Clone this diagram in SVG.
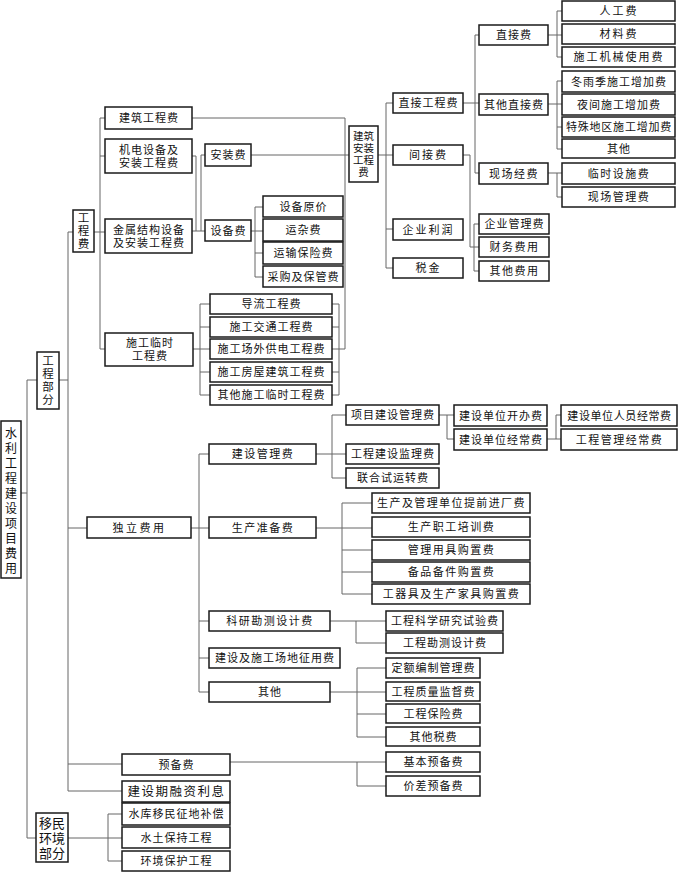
<svg xmlns="http://www.w3.org/2000/svg" width="680" height="872" viewBox="0 0 680 872">
<style>
rect{fill:#fff;stroke:#1a1a1a;stroke-width:1.5}
text{font-family:"Liberation Serif","Noto Sans CJK SC",serif;font-size:11px;fill:#111;text-anchor:middle;dominant-baseline:central;letter-spacing:1px}
.v{letter-spacing:0}
.big{font-size:12px}
#connectors path{fill:none;stroke:#666;stroke-width:1}
</style>
<rect x="0" y="0" width="680" height="872" style="stroke:none"/>
<g id="connectors">
<path d="M21,493H27M27,380V838M27,380H37M27,838H36"/>
<path d="M59,380H68M68,232V791M68,232H73M68,528H87M68,764H122M68,791H122"/>
<path d="M94,232H105M100,118V349M100,118H105M100,156H105M100,349H105"/>
<path d="M192,118H345V349M332,349H345"/>
<path d="M192,156H196V231M192,231H205M201,155V231M201,155H205"/>
<path d="M251,155H349"/>
<path d="M251,231H263M255,207V277M255,207H263M255,253H263M255,277H263"/>
<path d="M193,349H210M200,304V395M200,304H210M200,327H210M200,372H210M200,395H210"/>
<path d="M339,304V395M332,304H339M332,327H339M332,372H339M332,395H339"/>
<path d="M378,155H393M386,103V268M386,103H393M386,229H393M386,268H393"/>
<path d="M463,103H479M475,35V173M475,35H479M475,173H479"/>
<path d="M548,35H562M557,11V57M557,11H562M557,57H562"/>
<path d="M548,104H562M557,81V149M557,81H562M557,127H562M557,149H562"/>
<path d="M548,173H562M557,173V197H562"/>
<path d="M463,155H470V247H479M474,224V271M474,224H479M474,271H479"/>
<path d="M191,528H209M199,454V692M199,454H209M199,621H209M199,658H209M199,692H209"/>
<path d="M316,454H346M332,415V478M332,415H346M332,478H346"/>
<path d="M439,415H454M447,415V439H454"/>
<path d="M547,439H561M556,415V439M556,415H561"/>
<path d="M316,528H372M342,503V594M342,503H372M342,550H372M342,572H372M342,594H372"/>
<path d="M330,621H386M356,621V643H386"/>
<path d="M330,692H386M357,668V737M357,668H386M357,714H386M357,737H386"/>
<path d="M230,762H386M357,762V786H386"/>
<path d="M68,838H122M108,814V861M108,814H122M108,861H122"/>
</g>
<g id="root"><rect x="1" y="421" width="20" height="157"/><text class="v big" x="11"><tspan x="11" y="434">水</tspan><tspan x="11" y="449">利</tspan><tspan x="11" y="464">工</tspan><tspan x="11" y="479">程</tspan><tspan x="11" y="494">建</tspan><tspan x="11" y="509">设</tspan><tspan x="11" y="524">项</tspan><tspan x="11" y="539">目</tspan><tspan x="11" y="554">费</tspan><tspan x="11" y="569">用</tspan></text></g>
<g id="gongchengbufen"><rect x="37" y="352" width="22" height="57"/><text class="v" style="font-size:11.5px"><tspan x="48" y="361">工</tspan><tspan x="48" y="374">程</tspan><tspan x="48" y="387">部</tspan><tspan x="48" y="400">分</tspan></text></g>
<g id="yimin"><rect x="36" y="813" width="32" height="49"/><text class="v" style="font-size:13px"><tspan x="52" y="823">移民</tspan><tspan x="52" y="838">环境</tspan><tspan x="52" y="853">部分</tspan></text></g>
<g id="gongchengfei"><rect x="73" y="210" width="21" height="42"/><text class="v" style="font-size:11.5px"><tspan x="83.5" y="218">工</tspan><tspan x="83.5" y="231">程</tspan><tspan x="83.5" y="244">费</tspan></text></g>
<g id="jianzhugcf"><rect x="105" y="107" width="87" height="22"/><text x="149" y="118">建筑工程费</text></g>
<g id="jidian"><rect x="105" y="139" width="87" height="34"/><text><tspan x="149" y="149.5">机电设备及</tspan><tspan x="149" y="162.5">安装工程费</tspan></text></g>
<g id="jinshu"><rect x="105" y="219" width="87" height="34"/><text><tspan x="149" y="229.5">金属结构设备</tspan><tspan x="149" y="242.5">及安装工程费</tspan></text></g>
<g id="shigonglinshi"><rect x="105" y="333" width="88" height="33"/><text><tspan x="150" y="343">施工临时</tspan><tspan x="150" y="356">工程费</tspan></text></g>
<g id="anzhuangfei"><rect x="205" y="144" width="46" height="22"/><text x="228.5" y="155">安装费</text></g>
<g id="shebeifei"><rect x="205" y="220" width="46" height="21"/><text x="228.5" y="231">设备费</text></g>
<g id="sbyj"><rect x="263" y="196" width="80" height="21"/><text x="303.5" y="206.5">设备原价</text></g>
<g id="yzf"><rect x="263" y="219" width="80" height="22"/><text x="303.5" y="230">运杂费</text></g>
<g id="ysbxf"><rect x="263" y="242" width="80" height="22"/><text x="303.5" y="253">运输保险费</text></g>
<g id="cgbgf"><rect x="263" y="266" width="80" height="21"/><text x="303.5" y="276.5">采购及保管费</text></g>
<g id="dlgcf"><rect x="210" y="294" width="122" height="20"/><text x="271.5" y="304">导流工程费</text></g>
<g id="sgjtgcf"><rect x="210" y="317" width="122" height="20"/><text x="271.5" y="327">施工交通工程费</text></g>
<g id="sgcwgd"><rect x="210" y="339" width="122" height="20"/><text x="271.5" y="349">施工场外供电工程费</text></g>
<g id="sgfwjz"><rect x="210" y="362" width="122" height="20"/><text x="271.5" y="372">施工房屋建筑工程费</text></g>
<g id="qtsgls"><rect x="210" y="385" width="122" height="20"/><text x="271.5" y="395">其他施工临时工程费</text></g>
<g id="jzazgcf"><rect x="349" y="126" width="29" height="56"/><text class="v" style="font-size:10.5px"><tspan x="363.5" y="136">建筑</tspan><tspan x="363.5" y="148">安装</tspan><tspan x="363.5" y="160">工程</tspan><tspan x="363.5" y="172">费</tspan></text></g>
<g id="zjgcf"><rect x="393" y="93" width="70" height="20"/><text x="428.5" y="103">直接工程费</text></g>
<g id="jjf"><rect x="393" y="145" width="70" height="20"/><text x="428.5" y="155" style="letter-spacing:2px">间接费</text></g>
<g id="qylr"><rect x="393" y="219" width="70" height="21"/><text x="428.5" y="229.5" style="letter-spacing:2px">企业利润</text></g>
<g id="sj"><rect x="393" y="258" width="70" height="20"/><text x="428.5" y="268" style="letter-spacing:2px">税金</text></g>
<g id="zjf"><rect x="479" y="25" width="69" height="20"/><text x="514" y="35">直接费</text></g>
<g id="qtzjf"><rect x="479" y="94" width="69" height="21"/><text x="514" y="104.5">其他直接费</text></g>
<g id="xcjf"><rect x="479" y="163" width="69" height="21"/><text x="514" y="173.5" style="letter-spacing:1.5px">现场经费</text></g>
<g id="qyglf"><rect x="479" y="214" width="70" height="20"/><text x="514.5" y="224">企业管理费</text></g>
<g id="cwfy"><rect x="479" y="237" width="70" height="20"/><text x="514.5" y="247" style="letter-spacing:1.5px">财务费用</text></g>
<g id="qtfy"><rect x="479" y="261" width="70" height="20"/><text x="514.5" y="271" style="letter-spacing:1.5px">其他费用</text></g>
<g id="rgf"><rect x="562" y="1" width="113" height="20"/><text x="619" y="11" style="letter-spacing:2px">人工费</text></g>
<g id="clf"><rect x="562" y="24" width="113" height="20"/><text x="619" y="34" style="letter-spacing:2px">材料费</text></g>
<g id="sgjx"><rect x="562" y="47" width="113" height="20"/><text x="619" y="57" style="letter-spacing:2px">施工机械使用费</text></g>
<g id="dyj"><rect x="562" y="71" width="113" height="21"/><text x="619" y="81.5">冬雨季施工增加费</text></g>
<g id="yjsg"><rect x="562" y="94" width="113" height="21"/><text x="619" y="104.5">夜间施工增加费</text></g>
<g id="tsdq"><rect x="562" y="117" width="113" height="20"/><text x="619" y="127" style="letter-spacing:0.8px">特殊地区施工增加费</text></g>
<g id="qt1"><rect x="562" y="139" width="113" height="19"/><text x="619" y="148.5">其他</text></g>
<g id="lsss"><rect x="562" y="163" width="113" height="21"/><text x="619" y="173.5" style="letter-spacing:1.5px">临时设施费</text></g>
<g id="xcgl"><rect x="562" y="187" width="113" height="20"/><text x="619" y="197" style="letter-spacing:1.5px">现场管理费</text></g>
<g id="dlfy"><rect x="87" y="517" width="104" height="21"/><text x="139.5" y="527.5" style="letter-spacing:2.5px">独立费用</text></g>
<g id="jsglf"><rect x="209" y="444" width="107" height="20"/><text x="263" y="454" style="letter-spacing:1.5px">建设管理费</text></g>
<g id="sczbf"><rect x="209" y="517" width="107" height="21"/><text x="263" y="527.5" style="letter-spacing:1.5px">生产准备费</text></g>
<g id="kykc"><rect x="209" y="611" width="121" height="20"/><text x="270" y="621" style="letter-spacing:1.5px">科研勘测设计费</text></g>
<g id="jscd"><rect x="209" y="648" width="131" height="20"/><text x="275" y="658">建设及施工场地征用费</text></g>
<g id="qt2"><rect x="209" y="682" width="121" height="20"/><text x="270" y="692">其他</text></g>
<g id="xmjsgl"><rect x="346" y="405" width="93" height="20"/><text x="393" y="415">项目建设管理费</text></g>
<g id="gcjsjl"><rect x="346" y="444" width="93" height="20"/><text x="393" y="454">工程建设监理费</text></g>
<g id="lhsyz"><rect x="346" y="468" width="93" height="20"/><text x="393" y="478">联合试运转费</text></g>
<g id="jsdwkb"><rect x="454" y="405" width="93" height="21"/><text x="501" y="415.5">建设单位开办费</text></g>
<g id="jsdwjc"><rect x="454" y="429" width="93" height="21"/><text x="501" y="439.5">建设单位经常费</text></g>
<g id="jsdwry"><rect x="561" y="405" width="116" height="21"/><text x="619.5" y="415.5" style="letter-spacing:0.6px">建设单位人员经常费</text></g>
<g id="gcgljc"><rect x="561" y="429" width="116" height="21"/><text x="619.5" y="439.5" style="letter-spacing:1.5px">工程管理经常费</text></g>
<g id="scjgl"><rect x="372" y="493" width="158" height="20"/><text x="451.5" y="503" style="letter-spacing:1.4px">生产及管理单位提前进厂费</text></g>
<g id="sczg"><rect x="372" y="517" width="158" height="20"/><text x="451.5" y="527" style="letter-spacing:1.5px">生产职工培训费</text></g>
<g id="glyj"><rect x="372" y="540" width="158" height="20"/><text x="451.5" y="550" style="letter-spacing:1.5px">管理用具购置费</text></g>
<g id="bpbj"><rect x="372" y="562" width="158" height="20"/><text x="451.5" y="572" style="letter-spacing:1.5px">备品备件购置费</text></g>
<g id="gqj"><rect x="372" y="584" width="158" height="20"/><text x="451.5" y="594" style="letter-spacing:1.5px">工器具及生产家具购置费</text></g>
<g id="gckx"><rect x="386" y="611" width="117" height="20"/><text x="445" y="621">工程科学研究试验费</text></g>
<g id="gckc"><rect x="386" y="633" width="117" height="20"/><text x="445" y="643">工程勘测设计费</text></g>
<g id="debz"><rect x="386" y="658" width="94" height="20"/><text x="433.5" y="668">定额编制管理费</text></g>
<g id="gczl"><rect x="386" y="682" width="94" height="19"/><text x="433.5" y="691.5">工程质量监督费</text></g>
<g id="gcbx"><rect x="386" y="704" width="94" height="19"/><text x="433.5" y="713.5">工程保险费</text></g>
<g id="qtsf"><rect x="386" y="727" width="94" height="19"/><text x="433.5" y="736.5">其他税费</text></g>
<g id="ybf"><rect x="122" y="754" width="108" height="21"/><text x="176.5" y="764.5">预备费</text></g>
<g id="jsqrz"><rect x="122" y="781" width="108" height="21"/><text x="176.5" y="791.5" style="font-size:12.5px;letter-spacing:1.5px">建设期融资利息</text></g>
<g id="jbybf"><rect x="386" y="752" width="94" height="20"/><text x="433.5" y="762">基本预备费</text></g>
<g id="jcybf"><rect x="386" y="776" width="94" height="20"/><text x="433.5" y="786">价差预备费</text></g>
<g id="skym"><rect x="122" y="803" width="108" height="22"/><text x="176.5" y="814">水库移民征地补偿</text></g>
<g id="stbc"><rect x="122" y="827" width="108" height="21"/><text x="176.5" y="837.5">水土保持工程</text></g>
<g id="hjbh"><rect x="122" y="851" width="108" height="20"/><text x="176.5" y="861">环境保护工程</text></g>
</svg>
